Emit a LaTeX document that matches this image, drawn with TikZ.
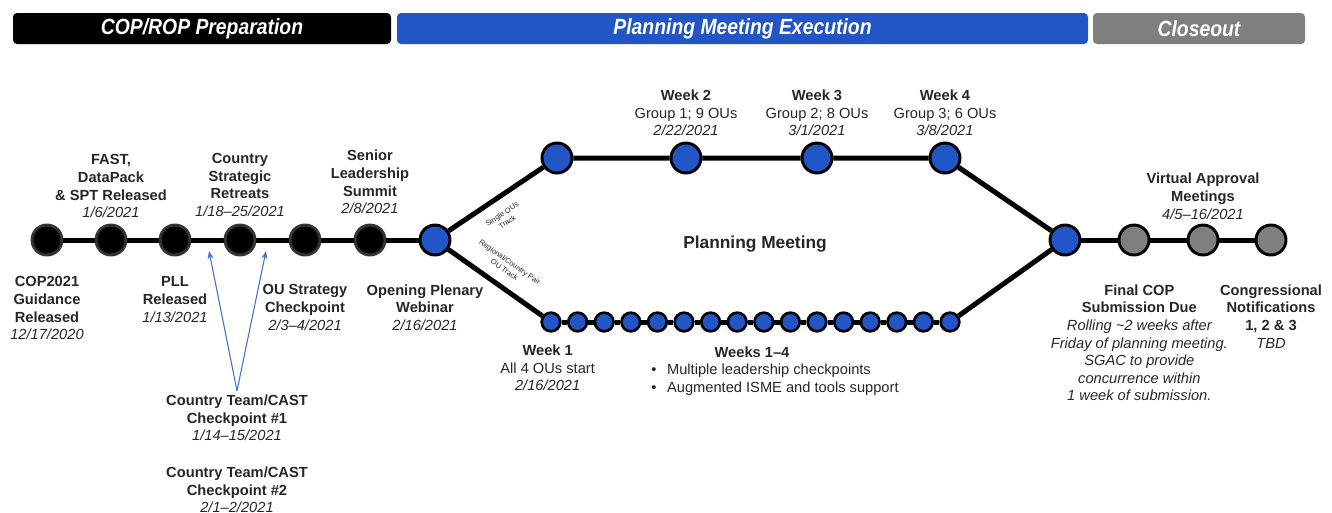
\documentclass[tikz,border=0pt]{standalone}
\usepackage{fontspec}
\setmainfont{Liberation Sans}
\newfontfamily\phasefont[FakeStretch=0.88]{Liberation Sans}
\usepackage{xcolor}
\definecolor{pmblue}{RGB}{34,85,197}
\definecolor{closegray}{RGB}{127,127,127}
\definecolor{inkgray}{RGB}{38,38,38}
\definecolor{callblue}{RGB}{68,114,196}
\usepackage{tikz}
\usetikzlibrary{
  arrows.meta,
  positioning
}
\tikzset{
  phase/.style={rounded corners=3pt, minimum height=23.25pt, inner sep=0pt,
    text=white, font=\phasefont\fontsize{16.5}{18}\selectfont\bfseries\itshape},
  prepdot/.style={circle, draw=black!80, fill=black, line width=2.2pt,
    minimum size=22.5pt, inner sep=0pt},
  bluedot/.style={prepdot, draw=black, fill=pmblue},
  graydot/.style={prepdot, draw=black, fill=closegray},
  pairdot/.style={bluedot, minimum size=14pt, line width=2pt},
  track/.style={line width=3.75pt, black},
  lbl/.style={align=center, inner sep=0pt, text=inkgray,
    font=\fontsize{11}{13.2}\selectfont\bfseries},
  trklbl/.style={align=center, inner sep=0pt, text=inkgray,
    font=\fontsize{5.6}{7}\selectfont},
  callarr/.style={-{Stealth[length=6pt]}, callblue, line width=0.8pt},
}
\newcommand{\when}[1]{{\mdseries\itshape #1}}
\newcommand{\plain}[1]{{\mdseries #1}}

\begin{document}
\begin{tikzpicture}[x=0.75pt, y=-0.75pt]
  \useasboundingbox (0,0) rectangle (1332,512);

  % Phase bars
  \node[phase, fill=black, minimum width=283.5pt] (prep) at (202,28.5)
    {COP/ROP Preparation};
  \node[phase, fill=pmblue, minimum width=518.25pt] (exec) at (742.5,28.5)
    {Planning Meeting Execution};
  \node[phase, fill=closegray, minimum width=159pt] (close) at (1199,28.5)
    {Closeout};

  % Preparation milestones
  \node[prepdot] (cop) at (47,240) {};
  \node[prepdot] (fast) at (111,240) {};
  \node[prepdot] (pll) at (175,240) {};
  \node[prepdot] (retreat) at (240,240) {};
  \node[prepdot] (ouchk) at (305,240) {};
  \node[prepdot] (summit) at (370,240) {};
  \node[bluedot] (plenary) at (435,240) {};

  % Single OUs track
  \node[bluedot] (solo) at (557,158) {};
  \node[bluedot] (wk2) at (686,158) {};
  \node[bluedot] (wk3) at (817,158) {};
  \node[bluedot] (wk4) at (945,158) {};

  % Regional/country pair track
  \foreach \i in {1,...,16} {
    \node[pairdot] (pair\i) at ({551+(\i-1)*26.6},322) {};
  }

  % Closeout
  \node[bluedot] (merge) at (1065,240) {};
  \node[graydot] (final) at (1134,240) {};
  \node[graydot] (approval) at (1203,240) {};
  \node[graydot] (congress) at (1271,240) {};

  % Track lines
  \draw[track] (cop) -- (fast) -- (pll) -- (retreat) -- (ouchk) -- (summit) -- (plenary);
  \draw[track] (plenary) -- (solo)
    node[trklbl, pos=0.47, sloped, below=8pt] {Single OUs\\Track};
  \draw[track] (plenary) -- (pair1)
    node[trklbl, pos=0.5, sloped, above=8pt] {Regional/Country Pair\\OU Track};
  \draw[track] (solo) -- (wk2) -- (wk3) -- (wk4) -- (merge);
  \foreach \a [evaluate=\a as \b using int(\a+1)] in {1,...,15} {
    \draw[track] (pair\a) -- (pair\b);
  }
  \draw[track] (pair16) -- (merge);
  \draw[track] (merge) -- (final) -- (approval) -- (congress);

  % Labels above the line
  \node[lbl, above=4pt of fast] (fastlbl)
    {FAST,\\DataPack\\\& SPT Released\\\when{1/6/2021}};
  \node[lbl, above=5pt of retreat] (retreatlbl)
    {Country\\Strategic\\Retreats\\\when{1/18--25/2021}};
  \node[lbl, above=7pt of summit] (summitlbl)
    {Senior\\Leadership\\Summit\\\when{2/8/2021}};
  \node[lbl, above=4pt of wk2] (wk2lbl)
    {Week 2\\\plain{Group 1; 9 OUs}\\\when{2/22/2021}};
  \node[lbl, above=4pt of wk3] (wk3lbl)
    {Week 3\\\plain{Group 2; 8 OUs}\\\when{3/1/2021}};
  \node[lbl, above=4pt of wk4] (wk4lbl)
    {Week 4\\\plain{Group 3; 6 OUs}\\\when{3/8/2021}};
  \node[lbl, above=3pt of approval] (approvallbl)
    {Virtual Approval\\Meetings\\\when{4/5--16/2021}};

  % Labels below the line
  \node[lbl, below=15pt of cop] (coplbl)
    {COP2021\\Guidance\\Released\\\when{12/17/2020}};
  \node[lbl, below=15pt of pll] (plllbl)
    {PLL\\Released\\\when{1/13/2021}};
  \node[lbl, below=21pt of ouchk] (ouchklbl)
    {OU Strategy\\Checkpoint\\\when{2/3--4/2021}};
  \node[lbl, below=21pt of plenary, xshift=-7.5pt] (plenarylbl)
    {Opening Plenary\\Webinar\\\when{2/16/2021}};
  \node[lbl, below=9pt of pair1, xshift=-2.5pt] (wk1lbl)
    {Week 1\\\plain{All 4 OUs start}\\\when{2/16/2021}};
  \node[lbl, below=21pt of final, xshift=4pt] (finallbl)
    {Final COP\\Submission Due\\\when{Rolling \textasciitilde2 weeks after}\\
     \when{Friday of planning meeting.}\\\when{SGAC to provide}\\
     \when{concurrence within}\\\when{1 week of submission.}};
  \node[lbl, below=21pt of congress] (congresslbl)
    {Congressional\\Notifications\\1, 2 \& 3\\\when{TBD}};

  % Planning meeting
  \node[lbl, font=\fontsize{13}{15}\selectfont\bfseries] (pmtitle) at (755,244)
    {Planning Meeting};
  \node[lbl] (wk14) at (752,352) {Weeks 1--4};
  \node[lbl, font=\fontsize{11}{13.2}\selectfont, anchor=north west] (wk14list) at (651,362)
    {\begin{tabular}{@{}l@{\hspace{8pt}}l@{}}
      \textbullet & Multiple leadership checkpoints \\
      \textbullet & Augmented ISME and tools support \\
    \end{tabular}};

  % Country team checkpoints
  \node[lbl] (ctcast1) at (237,418)
    {Country Team/CAST\\Checkpoint \#1\\\when{1/14--15/2021}};
  \node[lbl, below=19pt of ctcast1] (ctcast2)
    {Country Team/CAST\\Checkpoint \#2\\\when{2/1--2/2021}};
  \coordinate (tipA) at (209,251);
  \coordinate (tipB) at (266,251);
  \draw[callarr] ([yshift=3pt]ctcast1.north) -- (tipA);
  \draw[callarr] ([yshift=3pt]ctcast1.north) -- (tipB);
\end{tikzpicture}
\end{document}
